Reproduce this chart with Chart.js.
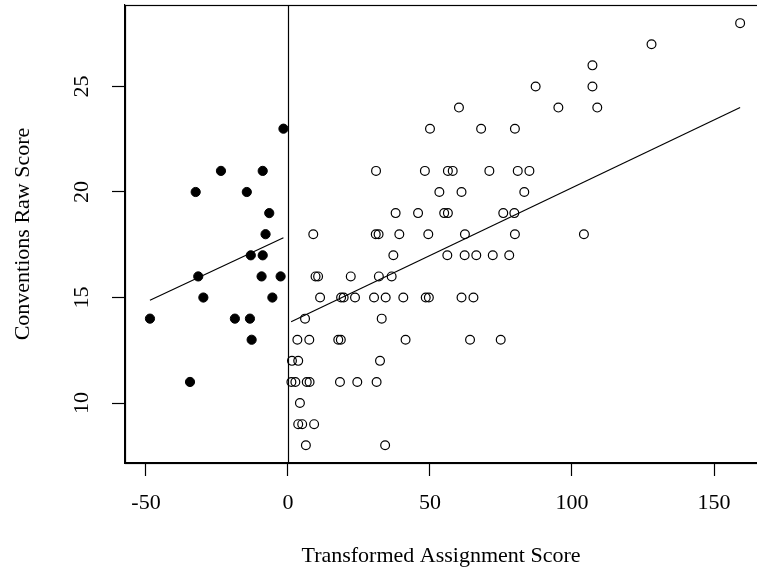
<!DOCTYPE html>
<html>
<head>
<meta charset="utf-8">
<script src="https://cdn.jsdelivr.net/npm/chart.js@4.4.0/dist/chart.umd.min.js"></script>
<style>
  html, body { margin: 0; padding: 0; background: #fff; overflow: hidden; }
  #wrap { width: 757px; height: 573px; position: relative; }
</style>
</head>
<body>
<div id="wrap"><canvas id="myChart"></canvas></div>
<script>
// filled dots: transformed score below zero
const negX = [-1.6, -23.6, -8.9, -32.5, -14.5, -6.6, -7.9, -13.1, -8.9, -31.6,
              -9.3, -2.6, -29.8, -5.5, -48.6, -18.7, -13.4, -12.8, -34.5];
const negY = [23, 21, 21, 20, 20, 19, 18, 17, 17, 16,
              16, 16, 15, 15, 14, 14, 14, 13, 11];

// open circles: transformed score above zero
const posX = [159.2, 128, 107.2, 87.2, 107.2, 60.2, 95.2, 108.9, 50, 68, 79.9,
              31, 48.2, 56.3, 58, 70.9, 80.9, 85,
              53.3, 61.1, 83.2,
              37.9, 45.8, 55, 56.3, 75.8, 79.7,
              8.9, 30.9, 31.9, 39.2, 49.4, 62.3, 79.9, 104.2,
              37.1, 56.1, 62.2, 66.3, 72.1, 77.9,
              9.7, 10.6, 22.1, 32, 36.5,
              11.3, 18.7, 19.6, 23.6, 30.3, 34.4, 40.6, 48.5, 49.6, 61.1, 65.3,
              6, 33,
              3.3, 7.5, 17.7, 18.6, 41.4, 64.1, 74.9,
              1.4, 3.6, 32.4,
              1.2, 2.6, 6.6, 7.6, 18.3, 24.4, 31.2,
              4.2,
              3.6, 5, 9.2,
              6.3, 34.2];
const posY = [28, 27, 26, 25, 25, 24, 24, 24, 23, 23, 23,
              21, 21, 21, 21, 21, 21, 21,
              20, 20, 20,
              19, 19, 19, 19, 19, 19,
              18, 18, 18, 18, 18, 18, 18, 18,
              17, 17, 17, 17, 17, 17,
              16, 16, 16, 16, 16,
              15, 15, 15, 15, 15, 15, 15, 15, 15, 15, 15,
              14, 14,
              13, 13, 13, 13, 13, 13, 13,
              12, 12, 12,
              11, 11, 11, 11, 11, 11, 11,
              10,
              9, 9, 9,
              8, 8];

// fitted lines, end points
const fitNegX = [-48.6, -1.6];
const fitNegY = [14.87, 17.83];
const fitPosX = [1.1, 159.2];
const fitPosY = [13.85, 24.0];

const xTicks = [-50, 0, 50, 100, 150];
const yTicks = [10, 15, 20, 25];

const toPts = (xs, ys) => xs.map((x, i) => ({ x: x, y: ys[i] }));

const serif = "'Liberation Serif', 'Times New Roman', serif";
Chart.defaults.font.family = serif;
Chart.defaults.color = '#000';

const framePlugin = {
  id: 'frame',
  beforeDatasetsDraw(chart) {
    const { ctx, chartArea, scales } = chart;
    const x0 = Math.round(scales.x.getPixelForValue(0)) + 0.5;
    ctx.save();
    ctx.strokeStyle = '#000';
    ctx.lineWidth = 1.2;
    ctx.beginPath();
    ctx.moveTo(x0, chartArea.top);
    ctx.lineTo(x0, chartArea.bottom);
    ctx.stroke();
    ctx.restore();
  },
  afterDraw(chart) {
    const { ctx, chartArea, scales } = chart;
    ctx.save();
    ctx.strokeStyle = '#000';
    ctx.lineWidth = 1.2;
    ctx.strokeRect(chartArea.left + 0.5, chartArea.top + 0.5,
      chartArea.right - chartArea.left + 2, chartArea.bottom - chartArea.top);
    ctx.fillStyle = '#000';
    ctx.font = '22px ' + serif;
    ctx.textAlign = 'center';
    ctx.textBaseline = 'middle';
    // tick labels, placed through the scales
    xTicks.forEach(v => {
      ctx.fillText(String(v), scales.x.getPixelForValue(v), chartArea.bottom + 40);
    });
    yTicks.forEach(v => {
      ctx.save();
      ctx.translate(82, scales.y.getPixelForValue(v));
      ctx.rotate(-Math.PI / 2);
      ctx.fillText(String(v), 0, 0);
      ctx.restore();
    });
    ctx.restore();
  }
};

const chartCanvas = document.getElementById('myChart');
const myChart = new Chart(chartCanvas.getContext('2d'), {
  type: 'scatter',
  data: {
    datasets: [
      {
        label: 'below zero',
        data: toPts(negX, negY),
        pointRadius: 4.6,
        pointBackgroundColor: '#000',
        pointBorderColor: '#000',
        pointBorderWidth: 1
      },
      {
        label: 'above zero',
        data: toPts(posX, posY),
        pointRadius: 4.4,
        pointBackgroundColor: 'rgba(0,0,0,0)',
        pointBorderColor: '#000',
        pointBorderWidth: 1.2
      },
      {
        type: 'line',
        label: 'fit below',
        data: toPts(fitNegX, fitNegY),
        borderColor: '#000',
        borderWidth: 1.2,
        pointRadius: 0,
        fill: false
      },
      {
        type: 'line',
        label: 'fit above',
        data: toPts(fitPosX, fitPosY),
        borderColor: '#000',
        borderWidth: 1.2,
        pointRadius: 0,
        fill: false
      }
    ]
  },
  options: {
    animation: false,
    responsive: true,
    maintainAspectRatio: false,
    layout: { autoPadding: false, padding: { top: 5, right: 0, bottom: 0, left: 0 } },
    plugins: {
      legend: { display: false },
      tooltip: { enabled: false }
    },
    scales: {
      x: {
        type: 'linear',
        position: 'bottom',
        min: -57.39,
        max: 165.14,
        afterBuildTicks: axis => { axis.ticks = xTicks.map(v => ({ value: v })); },
        afterFit: axis => { axis.height = 110; },
        border: { display: true, color: '#000', width: 1.2 },
        grid: { drawOnChartArea: false, drawTicks: true, tickLength: 13, color: '#000', tickColor: '#000', tickWidth: 1.2 },
        ticks: { display: false },
        title: {
          display: true,
          text: 'Transformed Assignment Score',
          color: '#000',
          font: { size: 22 },
          padding: { top: 0, bottom: 4 }
        }
      },
      y: {
        type: 'linear',
        min: 7.16,
        max: 28.86,
        afterBuildTicks: axis => { axis.ticks = yTicks.map(v => ({ value: v })); },
        afterFit: axis => { axis.width = 125; },
        border: { display: true, color: '#000', width: 1.2 },
        grid: { drawOnChartArea: false, drawTicks: true, tickLength: 13, color: '#000', tickColor: '#000', tickWidth: 1.2 },
        ticks: { display: false },
        title: {
          display: true,
          text: 'Conventions Raw Score',
          color: '#000',
          font: { size: 22 },
          padding: { top: 10, bottom: 0 }
        }
      }
    }
  },
  plugins: [framePlugin]
});
</script>
</body>
</html>
